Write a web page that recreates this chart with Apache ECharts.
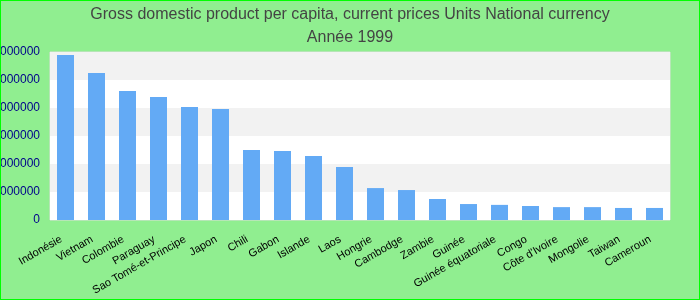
<!DOCTYPE html>
<html><head><meta charset="utf-8">
<script src="https://cdn.jsdelivr.net/npm/echarts@6/dist/echarts.min.js"></script>
<style>html,body{margin:0;padding:0;}#c{width:698px;height:298px;border:1px solid #00ff00;background:#90ee90;}</style>
</head><body><div id="c"></div>
<script>
const categories = ["Indonésie","Vietnam","Colombie","Paraguay","Sao Tomé-et-Principe","Japon","Chili","Gabon","Islande","Laos","Hongrie","Cambodge","Zambie","Guinée","Guinée équatoriale","Congo","Côte d'Ivoire","Mongolie","Taiwan","Cameroun"];
const values = [5890000,5250000,4610000,4390000,4040000,3960000,2500000,2460000,2290000,1890000,1140000,1070000,750000,570000,540000,500000,460000,460000,430000,430000];
const titleLines = ["Gross domestic product per capita, current prices Units National currency","Année 1999"];
const chart = echarts.init(document.getElementById('c'));
chart.setOption({
  backgroundColor:'#90ee90',
  animation:false,
  title:{text:titleLines.join('\n'),left:'center',top:2,padding:[0,5],textStyle:{fontFamily:'Liberation Sans, Arial',fontSize:16,fontWeight:'normal',color:'#444',lineHeight:23}},
  grid:{left:49,right:29,top:51,bottom:79,show:true,borderColor:'#ddd',borderWidth:1,backgroundColor:'#fff',containLabel:false,outerBoundsMode:'none'},
  xAxis:{type:'category',data:categories,axisLine:{show:false},axisTick:{show:false},
    axisLabel:{interval:0,rotate:30,fontFamily:'Liberation Sans, Arial',fontSize:11,color:'#000',margin:16,padding:[0,5,0,0]}},
  yAxis:{type:'value',min:0,max:6000000,interval:1000000,axisLine:{show:false},axisTick:{show:false},
    splitLine:{show:false},splitArea:{show:true,areaStyle:{color:['#ffffff','#f2f2f2']}},
    axisLabel:{fontFamily:'Liberation Sans, Arial',fontSize:12,color:'#00008b',margin:10,formatter:function(v){return String(v);}}},
  series:[{type:'bar',data:values,barWidth:17,itemStyle:{color:'#63aaf5'}}]
});
</script></body></html>
